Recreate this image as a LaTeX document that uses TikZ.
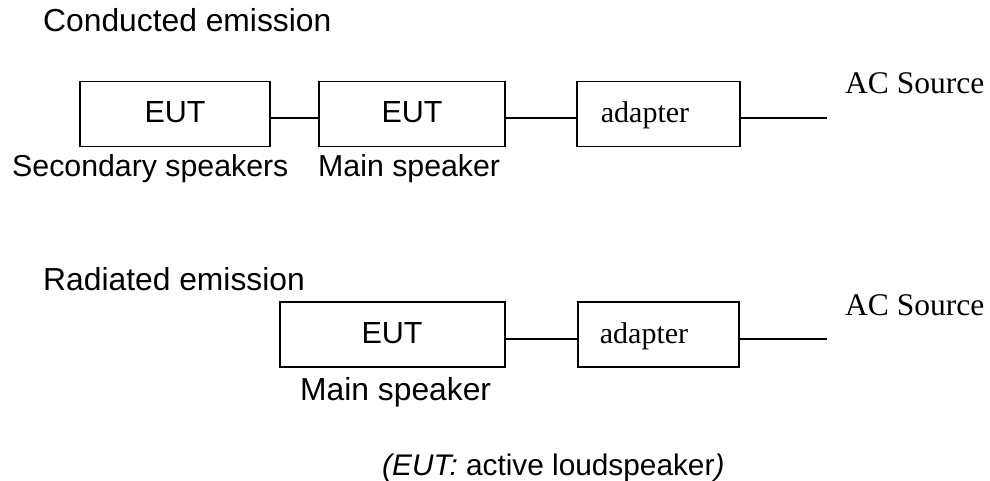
\documentclass[tikz,border=0pt]{standalone}
\usepackage{fontspec}
\setmainfont{Liberation Sans}
\newfontfamily\timesf{Liberation Serif}
\begin{document}
\begin{tikzpicture}[x=1pt,y=-1pt,
  box/.style={draw,line width=1.6pt,minimum height=65pt,inner sep=0pt},
  wire/.style={line width=1.6pt},
  lbl/.style={anchor=base west,inner sep=0pt,font=\fontsize{30.3}{36}\selectfont},
  ttl/.style={anchor=base west,inner sep=0pt,font=\fontsize{31.8}{36}\selectfont},
  boxtxt/.style={anchor=base,inner sep=0pt,font=\fontsize{30.5}{36}\selectfont},
  serif/.style={anchor=base,inner sep=0pt,font=\timesf\fontsize{30}{36}\selectfont},
  acs/.style={anchor=base west,inner sep=0pt,font=\timesf\fontsize{31.5}{36}\selectfont}]
\useasboundingbox (0,0) rectangle (990,481);
% Conducted emission
\node[ttl] (t1) at (43,32) {Conducted emission};
\node[box,minimum width=190pt] (b1) at (175,114) {};
\node[box,minimum width=186pt] (b2) at (412,114) {};
\node[box,minimum width=163pt] (a1) at (658.5,114) {};
\node[boxtxt] (b1t) at (175,123) {EUT};
\node[boxtxt] (b2t) at (412,123) {EUT};
\node[serif] (a1t) at (645,123) {adapter};
\coordinate (e1) at (827,118);
\node[acs] (ac1) at (845,94) {AC Source};
\draw[wire] ([yshift=-4pt]b1.east) -- ([yshift=-4pt]b2.west);
\draw[wire] ([yshift=-4pt]b2.east) -- ([yshift=-4pt]a1.west);
\draw[wire] ([yshift=-4pt]a1.east) -- (e1);
\node[lbl] (l1) at (12,177) {Secondary speakers};
\node[lbl] (l2) at (318,177) {Main speaker};
% Radiated emission
\node[ttl] (t2) at (43,290) {Radiated emission};
\node[box,minimum width=225pt] (b3) at (392.5,334.5) {};
\node[box,minimum width=161pt] (a2) at (658.5,334.5) {};
\node[boxtxt] (b3t) at (392,343) {EUT};
\node[serif] (a2t) at (644,343) {adapter};
\coordinate (e2) at (827,339);
\node[acs] (ac2) at (845,315) {AC Source};
\draw[wire] ([yshift=-4.5pt]b3.east) -- ([yshift=-4.5pt]a2.west);
\draw[wire] ([yshift=-4.5pt]a2.east) -- (e2);
\node[ttl] (l3) at (300,400) {Main speaker};
% note
\node[anchor=base west,inner sep=0pt,font=\fontsize{29.8}{36}\selectfont] (note) at (382,475) {\textit{(EUT:} active loudspeaker\textit{)}};
\end{tikzpicture}
\end{document}
